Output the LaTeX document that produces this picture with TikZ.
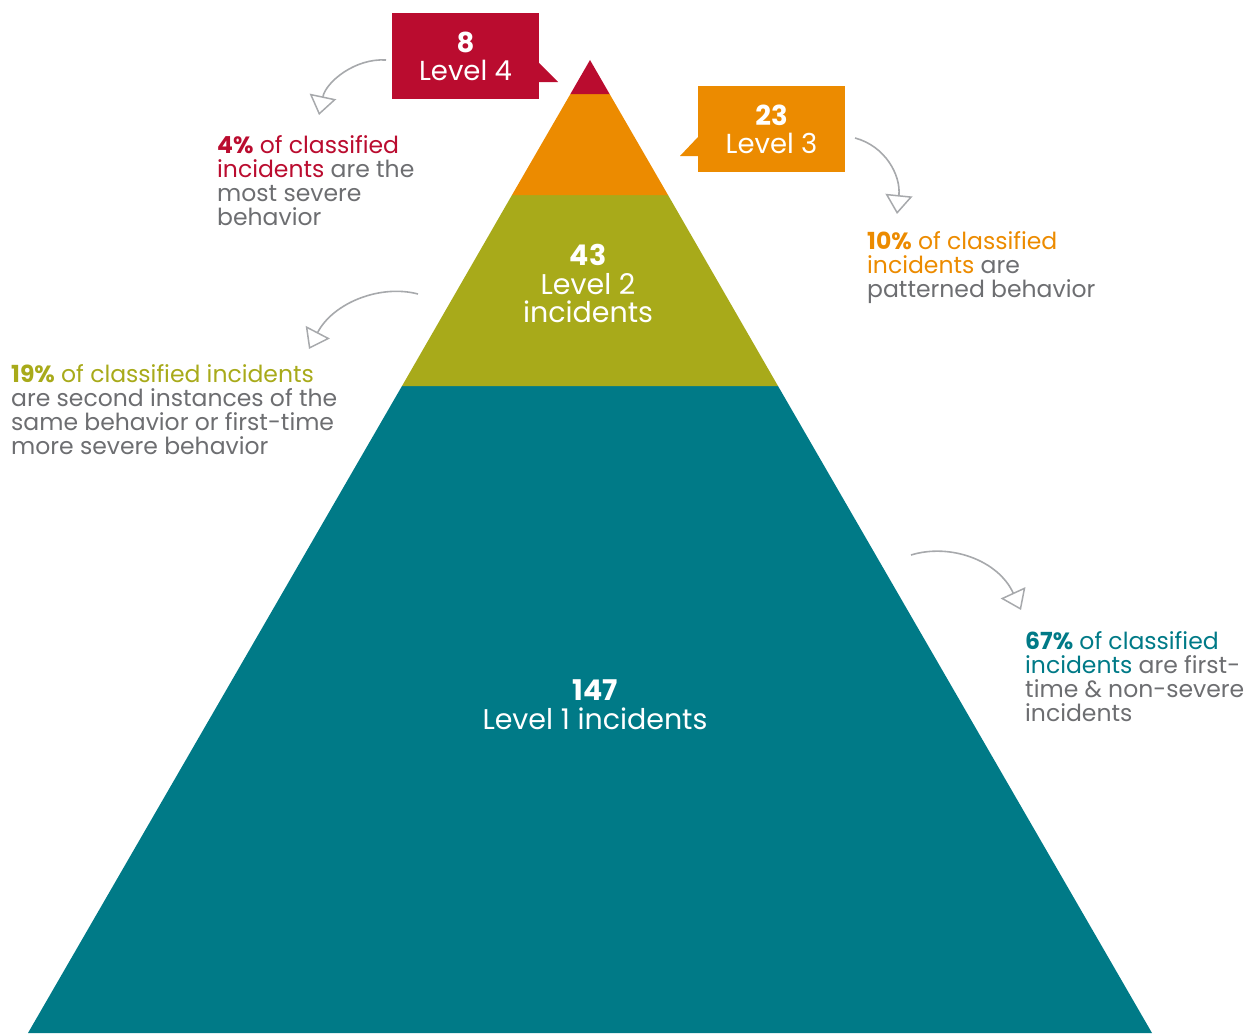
\documentclass[tikz,border=0pt]{standalone}
\usepackage{fontspec}
\setmainfont{Poppins}
\usepackage{tikz}
\usetikzlibrary{arrows.meta}

\definecolor{lvfour}{HTML}{BA0C2F}
\definecolor{lvthree}{HTML}{EC8B00}
\definecolor{lvtwo}{HTML}{A8AA1A}
\definecolor{lvone}{HTML}{007A87}
\definecolor{notegray}{HTML}{6D6E71}
\definecolor{arrowgray}{HTML}{A7A9AC}

\tikzset{
  levelbox/.style={minimum width=147pt, minimum height=86pt, inner sep=0pt,
    text=white, align=center, font=\fontsize{27.5}{28}\selectfont},
  levellabel/.style={text=white, align=center, inner sep=0pt, anchor=base,
    font=\fontsize{28.5}{28}\selectfont},
  note/.style={text=notegray, align=left, inner sep=0pt, anchor=base west,
    font=\fontsize{23.5}{24}\selectfont},
  sketch/.style={draw=arrowgray, line width=1.6pt,
    -{Triangle[open, length=19pt, width=27pt, line width=1.5pt]}},
}

\begin{document}
\begin{tikzpicture}[x=1pt, y=-1pt]
    \useasboundingbox (0,0) rectangle (1255,1033);

    % Pyramid
    \fill[lvone] (28,1033) -- (402,386) -- (778,386) -- (1152,1033) -- cycle;
    \fill[lvtwo] (402,386) -- (512,195) -- (668,195) -- (778,386) -- cycle;
    \fill[lvthree] (512,195) -- (570.4,94) -- (609.6,94) -- (668,195) -- cycle;
    \fill[lvfour] (570.4,94) -- (590,60) -- (609.6,94) -- cycle;

    % base anchor = last line
    \node[levellabel] (ltwo) at (588,322) {\textbf{43}\\[1pt]Level 2\\incidents};
    \node[levellabel] (lone) at (595,729) {\textbf{147}\\[1pt]Level 1 incidents};

    % Level 4 callout
    \fill[lvfour] (539,63) -- (558,82) -- (539,82) -- cycle;
    \node[levelbox, fill=lvfour] (bfour) at (465.5,56) {\textbf{8}\\Level 4};

    % Level 3 callout
    \fill[lvthree] (698,137) -- (680,156) -- (698,156) -- cycle;
    \node[levelbox, fill=lvthree] (bthree) at (771.5,129) {\textbf{23}\\Level 3};

    % Notes
    \node[note] (nfour) at (217,225) {\textcolor{lvfour}{\textbf{4\%} of classified}\\
      \textcolor{lvfour}{incidents} are the\\most severe\\behavior};
    \node[note] (nthree) at (867,297) {\textcolor{lvthree}{\textbf{10\%} of classified}\\
      \textcolor{lvthree}{incidents} are\\patterned behavior};
    \node[note] (ntwo) at (11,454) {\textcolor{lvtwo}{\textbf{19\%} of classified incidents}\\
      are second instances of the\\same behavior or first-time\\more severe behavior};
    \node[note] (none) at (1025,721) {\textcolor{lvone}{\textbf{67\%} of classified}\\
      \textcolor{lvone}{incidents} are first-\\time \& non-severe\\incidents};

    % Arrows
    \coordinate (afour) at (386,60);
    \coordinate (tfour) at (319,115);
    \draw[sketch] (afour) .. controls (355,58) and (326,82) .. (tfour);

    \coordinate (athree) at (855,138);
    \coordinate (tthree) at (897,214);
    \draw[sketch] (athree) .. controls (885,146) and (901,175) .. (tthree);

    \coordinate (atwo) at (418,294);
    \coordinate (ttwo) at (309,349);
    \draw[sketch] (atwo) .. controls (380,284) and (333,303) .. (ttwo);

    \coordinate (aone) at (911,555);
    \coordinate (tone) at (1021,610);
    \draw[sketch] (aone) .. controls (950,543) and (998,560) .. (tone);
\end{tikzpicture}
\end{document}
